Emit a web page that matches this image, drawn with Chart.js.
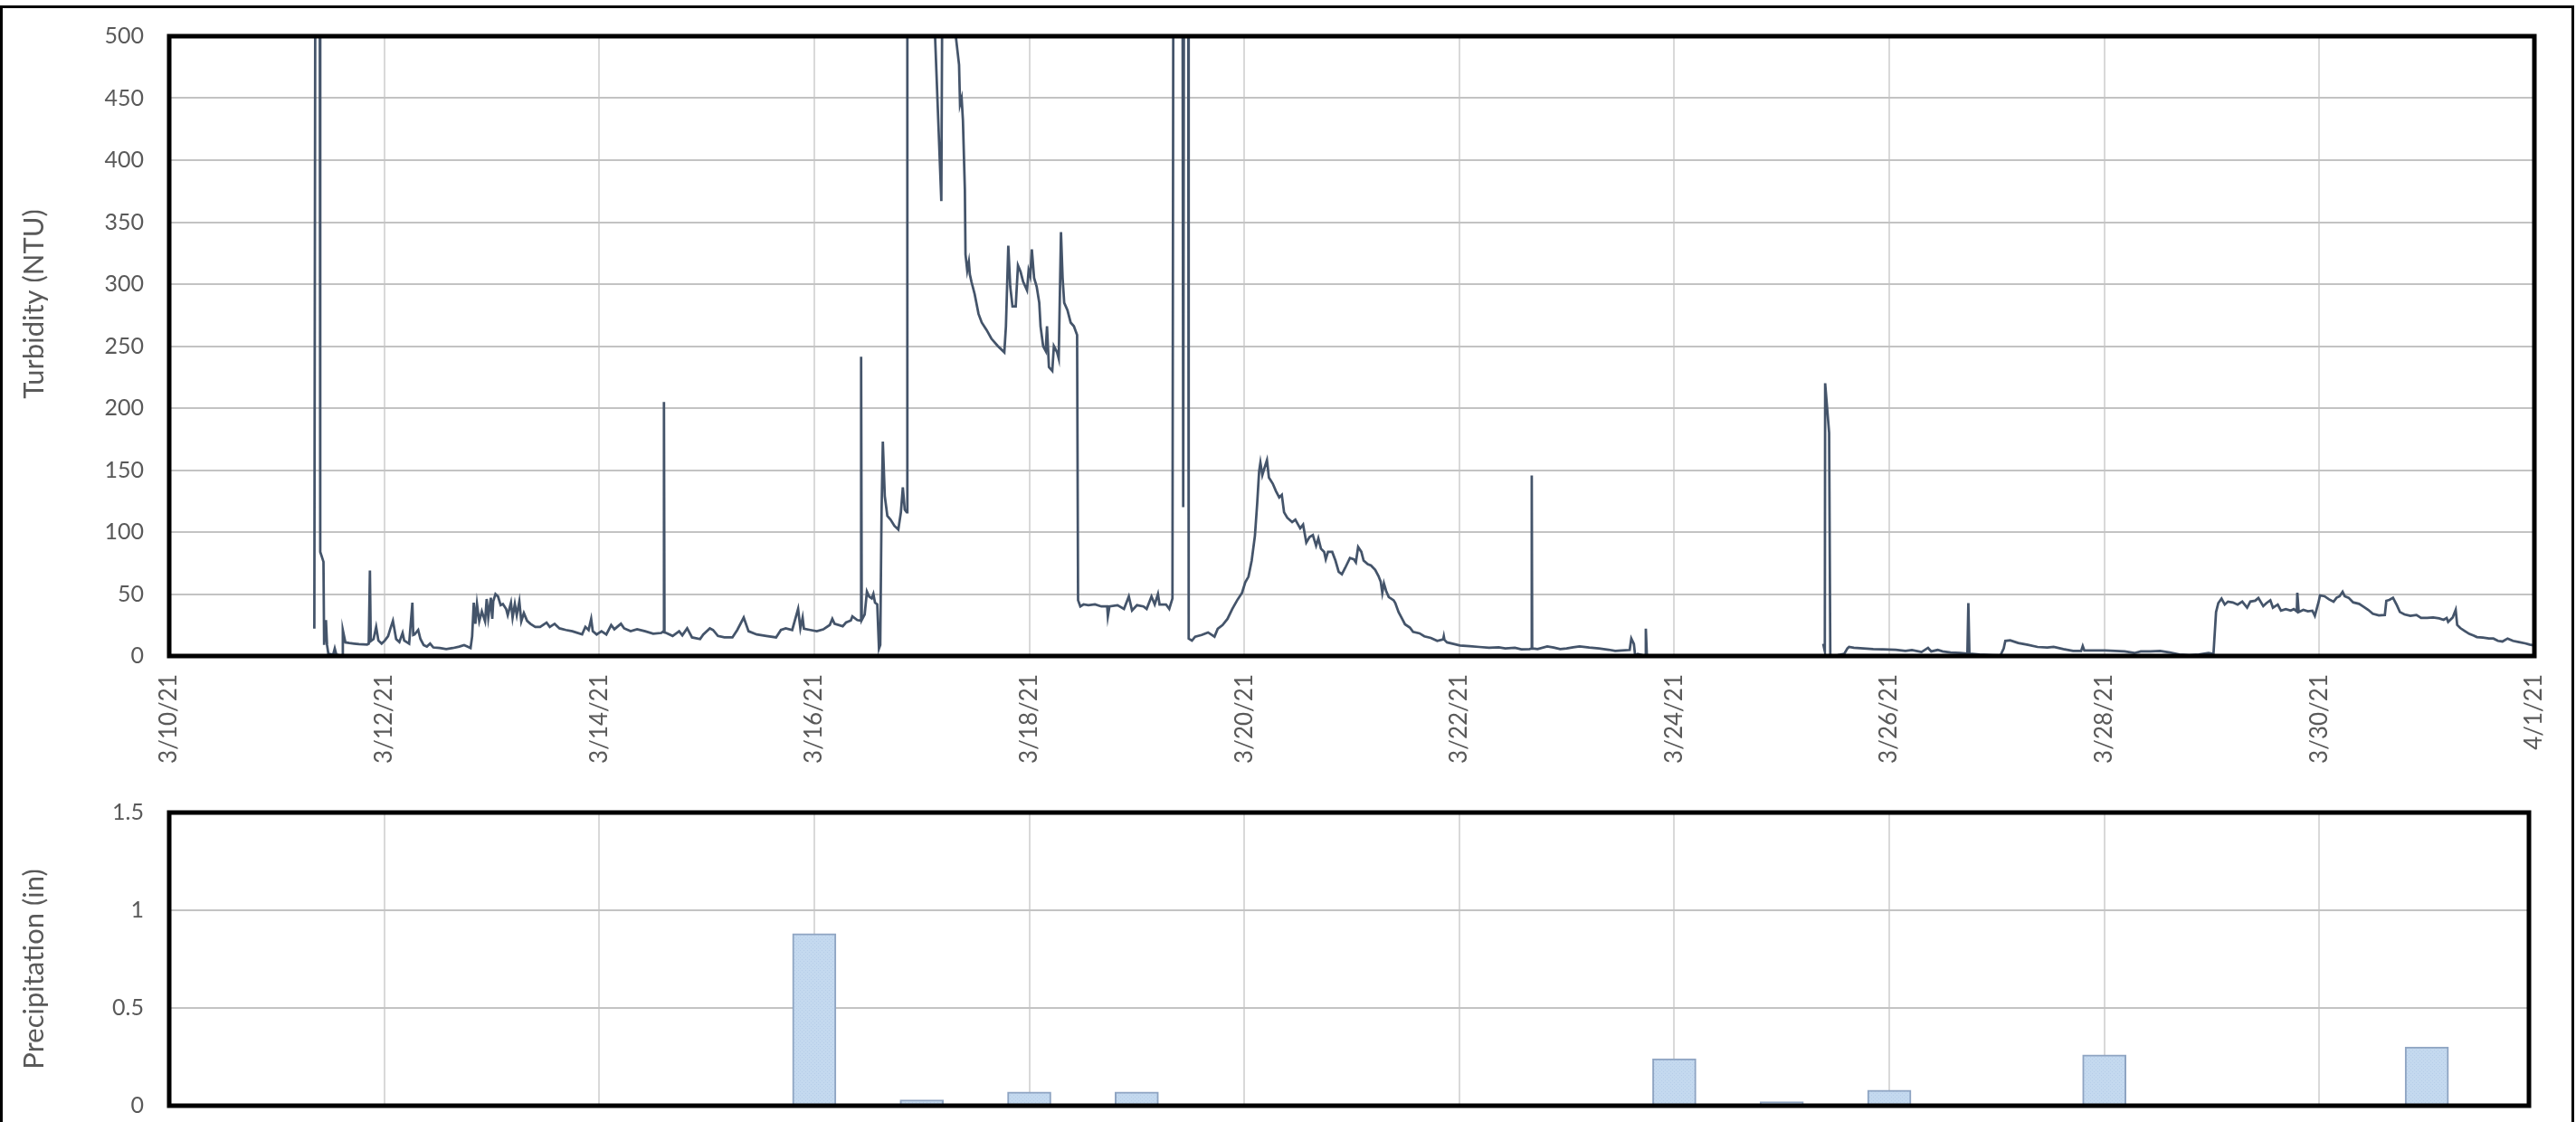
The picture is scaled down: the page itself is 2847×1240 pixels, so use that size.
<!DOCTYPE html>
<html>
<head>
<meta charset="utf-8">
<title>Turbidity and precipitation, March 2021</title>
<script src="https://cdn.jsdelivr.net/npm/chart.js@4.4.1/dist/chart.umd.min.js"></script>
<style>
  html, body { margin: 0; padding: 0; background: #fff; }
  #page { position: relative; width: 2847px; height: 1240px; overflow: hidden; background: #fff; }
  #frame { position: absolute; left: 0; top: 6px; width: 2845px; height: 1300px; border: 3px solid #000; box-sizing: border-box; }
  #turbCanvas { position: absolute; left: 0; top: 0; }
  #rainCanvas { position: absolute; left: 0; top: 870px; }
</style>
</head>
<body>
<div id="page">
  <div id="frame"></div>
  <canvas id="turbCanvas" width="2847" height="900"></canvas>
  <canvas id="rainCanvas" width="2847" height="370"></canvas>
</div>
<script>
// Time axis: days elapsed since 3/10/21 00:00.
const dateLabels = ['3/10/21', '3/12/21', '3/14/21', '3/16/21', '3/18/21', '3/20/21',
                    '3/22/21', '3/24/21', '3/26/21', '3/28/21', '3/30/21', '4/1/21'];
const rainTickLabels = ['0', '0.5', '1', '1.5'];

// Turbidity readings [day, NTU]. Readings above the 500 NTU axis ceiling are
// logged as 620 (sensor saturated); null marks the outage on 3/24-3/25.
const turbidity = [
  [1.350,22],[1.360,620],[1.400,620],[1.405,84],[1.420,80],[1.435,76],[1.441,9],[1.458,29],[1.468,9],[1.480,2],
  [1.495,1.5],[1.525,1],[1.540,6],[1.555,1],[1.585,0.5],[1.609,0.5],[1.615,21],[1.639,11],[1.675,10.5],[1.720,10],
  [1.765,9.5],[1.841,9.3],[1.856,10],[1.867,69],[1.875,12],[1.901,13.7],[1.925,23.5],[1.946,12.5],[1.976,10],[2.006,12.5],
  [2.036,16],[2.057,22],[2.081,28.4],[2.111,13.7],[2.141,11.3],[2.171,18.6],[2.186,12.5],[2.232,10],[2.262,43],[2.270,17],
  [2.283,17.4],[2.316,21],[2.337,13.7],[2.367,8.8],[2.397,7.6],[2.427,10],[2.457,6.9],[2.517,6.4],[2.577,5.6],[2.638,6.4],
  [2.698,7.6],[2.743,8.8],[2.773,7.6],[2.803,6.4],[2.818,16],[2.833,43],[2.848,26],[2.863,42],[2.884,28],[2.908,36],
  [2.938,28],[2.953,46],[2.968,31],[2.992,47],[3.005,30],[3.014,44],[3.035,50],[3.059,48],[3.083,41],[3.104,42],
  [3.134,38],[3.149,33],[3.179,43],[3.194,31],[3.215,42],[3.233,33],[3.257,44],[3.275,28],[3.299,34.6],[3.329,28.4],
  [3.359,26],[3.405,23.5],[3.450,23.5],[3.510,27],[3.540,23.5],[3.585,26],[3.630,22.3],[3.690,21],[3.750,20],[3.841,17.4],
  [3.871,23.5],[3.901,21],[3.925,30],[3.940,20],[3.976,17.4],[4.021,20],[4.066,17.4],[4.111,25],[4.141,21.6],[4.202,26],
  [4.232,22.3],[4.292,20],[4.352,21.6],[4.427,20],[4.502,18],[4.577,18.6],[4.598,20],[4.602,205],[4.607,19],[4.623,18.6],
  [4.683,16.2],[4.743,20],[4.773,16.7],[4.818,22.3],[4.863,15],[4.938,13.7],[4.968,17.4],[5.029,22.3],[5.059,21],[5.104,16.2],
  [5.164,15],[5.239,15],[5.284,21],[5.344,31],[5.389,20],[5.465,17.4],[5.555,16.2],[5.645,15],[5.690,21],[5.735,22.3],
  [5.795,21],[5.850,38],[5.871,22.3],[5.892,31],
  [5.904,22],[5.964,21],[6.024,20],[6.084,21.5],[6.144,25],[6.168,30],[6.189,26],[6.265,24],[6.295,27],[6.340,28.6],
  [6.355,32],[6.400,29],[6.430,28.6],[6.436,241.5],[6.442,29],[6.469,33.5],[6.490,52],[6.511,48],[6.535,46.5],[6.550,50],
  [6.565,43],[6.586,41.6],[6.602,6],[6.614,9],[6.626,116],[6.638,173],[6.656,129],[6.680,113],[6.710,110],[6.746,105],
  [6.782,102],[6.806,116],[6.824,136],[6.842,118],[6.860,116],[6.866,620],[7.080,600],[7.182,367],[7.195,620],[7.310,505],
  [7.347,477],[7.356,445],[7.371,450],[7.383,432],[7.401,376],[7.407,324],[7.423,311],[7.438,318],[7.447,308],[7.462,302],
  [7.492,292],[7.528,276],[7.558,269],[7.603,263],[7.648,256],[7.708,250],[7.768,245],[7.783,266],[7.805,331],[7.823,298],
  [7.844,282],[7.874,282],[7.895,315],[7.919,310],[7.943,302],[7.979,295],[7.994,311],[8.009,306.5],[8.024,328],[8.045,305],
  [8.069,298],[8.093,285],[8.105,266],[8.129,250],[8.153,246],[8.165,266],[8.183,233],[8.214,230],[8.229,250],[8.259,245],
  [8.274,240],[8.295,342],[8.310,305],[8.325,285],[8.355,279],[8.385,269],[8.415,266],[8.445,259],[8.454,45],[8.475,40],
  [8.505,41.6],[8.550,41],[8.611,41.6],[8.671,40],[8.725,40],[8.731,32],[8.746,40],[8.821,41],[8.881,38],[8.926,48],
  [8.956,36.7],[9.002,41],[9.062,40],[9.092,38],[9.137,48],[9.167,41.6],[9.197,50],[9.212,41.6],[9.272,41.6],[9.302,38],
  [9.332,46.5],[9.341,620],[9.425,620],[9.432,120],[9.440,620],[9.478,620],[9.483,14],[9.513,12.4],[9.543,15.6],[9.603,17],
  [9.663,19],[9.723,15.6],[9.753,22],[9.798,25],[9.844,30],[9.889,38],[9.934,45],[9.979,51],[10.009,59.5],[10.039,64],
  [10.069,77],[10.099,97],[10.120,123],[10.138,149],[10.150,156],[10.168,146],[10.189,152],[10.211,158],[10.229,144],[10.265,139],
  [10.295,133],[10.325,128],[10.349,130],[10.370,116],[10.400,111.5],[10.445,108],[10.475,110],[10.520,103],
  [10.547,106],[10.577,91.5],[10.607,96],[10.638,97.6],[10.668,89],[10.689,95],[10.713,86.6],[10.743,84],[10.758,78],[10.779,84],
  [10.818,84],[10.848,77],[10.878,68],[10.908,66],[10.938,71],[10.983,79],[11.020,78],[11.038,75.6],[11.059,88],[11.089,84],
  [11.110,77],[11.149,74],[11.179,73],[11.218,69.5],[11.248,64.6],[11.269,60],[11.284,51],[11.299,58.5],[11.320,52.4],[11.344,47.6],
  [11.389,45],[11.405,42.7],[11.435,35.4],[11.465,30.5],[11.495,25.6],[11.540,23],[11.570,19.5],[11.630,18.3],[11.675,15.9],[11.735,14.6],
  [11.795,12.2],[11.850,13.4],[11.856,15.9],[11.862,13],[11.886,11],[11.946,9.8],[12.006,8.5],[12.096,8],[12.186,7.3],[12.277,6.6],
  [12.367,7],[12.427,6.1],[12.517,6.6],[12.577,5.4],[12.653,5.6],[12.670,6],[12.674,145.6],[12.678,6],[12.683,6.1],[12.728,5.6],
  [12.818,7.8],[12.878,6.8],[12.938,5.6],[12.998,6.1],[13.059,7],[13.119,7.8],[13.209,6.8],[13.299,6.1],[13.389,5.1],[13.450,4.1],
  [13.510,4.4],[13.585,4.9],[13.600,14.1],[13.624,9.8],[13.636,0],[13.660,1.7],[13.705,0.7],[13.730,0.5],[13.735,22],[13.745,0],
  [13.800,null],
  [15.385,9.8],[15.400,3.7],[15.403,220],[15.440,180],[15.451,0],[15.460,0],[15.520,0.7],[15.580,1.7],[15.610,6.1],[15.625,7.3],
  [15.670,6.6],[15.760,6.1],[15.850,5.6],[15.940,5.4],[16.060,5.1],[16.150,4.1],[16.210,4.9],[16.300,3.2],[16.360,6.6],[16.390,3.7],
  [16.450,4.9],[16.495,3.7],[16.570,2.9],[16.660,2.4],[16.726,2],[16.735,42.7],[16.745,2],[16.840,1.2],[16.960,0.7],[17.034,0.5],
  [17.064,6.1],[17.079,12.2],[17.124,12.7],[17.199,10.5],[17.289,9],[17.379,7.3],[17.469,6.8],[17.529,7.3],[17.619,5.6],[17.709,4.1],
  [17.784,4.1],[17.799,8],[17.814,4.4],[17.889,4.4],[18.009,4.4],[18.099,4.1],[18.189,3.7],[18.279,2.4],[18.339,3.7],[18.429,3.7],
  [18.519,4.1],[18.609,2.9],[18.699,1.2],[18.789,0.7],[18.879,1.2],[18.969,2.4],[19.015,1.7],[19.039,35.4],[19.060,42.7],[19.090,46.3],
  [19.120,41.5],[19.150,43.9],[19.195,43.2],[19.240,41.5],[19.283,43.9],[19.328,39],[19.358,43.9],[19.403,44.6],[19.433,46.8],[19.478,40.2],
  [19.508,42.7],[19.544,45],[19.568,39],[19.613,41.5],[19.643,36.6],[19.688,37.8],[19.733,36.6],[19.763,37.8],[19.790,36],[19.795,51],
  [19.808,35.4],[19.851,37.2],[19.893,36],[19.935,36.5],[19.958,32.4],[19.992,43.3],[20.006,48.9],[20.048,48.2],[20.090,45.7],[20.132,43.8],
  [20.160,47],[20.188,48.2],[20.216,51.8],[20.236,48.2],[20.272,47],[20.314,43.3],[20.370,42.1],[20.412,39.7],[20.455,37.2],[20.497,34.1],
  [20.553,32.8],[20.609,33.1],[20.623,44.5],[20.651,45.3],[20.685,47],[20.721,40.9],[20.749,35.5],[20.791,33.6],[20.847,32.4],[20.903,33.1],
  [20.946,30.7],[21.002,30.7],[21.058,31.1],[21.114,30.4],[21.156,29.2],[21.184,30.7],[21.198,27.5],[21.240,31.1],[21.268,37.2],[21.282,25.1],
  [21.310,22.6],[21.352,20.2],[21.395,17.8],[21.437,16.5],[21.465,15.3],[21.521,14.8],[21.577,14.1],[21.619,14.1],[21.661,12.2],[21.703,11.7],
  [21.751,14.1],[21.801,12.2],[21.857,11.2],[21.914,10.2],[21.956,9.2],[22.003,8.5]
];

// Daily precipitation totals (inches), keyed by day since 3/10/21.
const rainDays   = [6, 7, 8, 9, 14, 15, 16, 18, 21];
const rainInches = [0.88, 0.03, 0.07, 0.07, 0.24, 0.02, 0.08, 0.26, 0.30];

const FONT = 'Lato';
const GREY_TEXT = '#595959';

// Heavy black frame around each plot area.
const plotFrame = {
  id: 'plotFrame',
  afterDraw(chart) {
    const { ctx, chartArea: a } = chart;
    ctx.save();
    ctx.strokeStyle = '#000';
    ctx.lineWidth = 5;
    ctx.strokeRect(a.left, a.top, a.right - a.left, a.bottom - a.top);
    ctx.restore();
  }
};

// Rotated value-axis title, placed at a fixed point beside the axis.
const sideTitle = {
  id: 'sideTitle',
  afterDraw(chart, args, opts) {
    const ctx = chart.ctx;
    ctx.save();
    ctx.translate(opts.x, opts.y);
    ctx.rotate(-Math.PI / 2);
    ctx.font = `${opts.size}px ${FONT}`;
    ctx.fillStyle = GREY_TEXT;
    ctx.textAlign = 'center';
    ctx.textBaseline = 'middle';
    ctx.fillText(opts.text, 0, 0);
    ctx.restore();
  }
};

// Fine stipple fill used for the rain columns.
function stipple() {
  const c = document.createElement('canvas');
  c.width = 4; c.height = 4;
  const g = c.getContext('2d');
  g.fillStyle = '#C4D9EF';
  g.fillRect(0, 0, 4, 4);
  g.fillStyle = '#B6CDE8';
  g.fillRect(0, 0, 1, 1);
  g.fillRect(2, 2, 1, 1);
  return g.createPattern(c, 'repeat');
}

function yAxis(opts) {
  return Object.assign({
    position: 'left',
    border: { display: false },
    grid: { color: '#C3C3C3', lineWidth: 2, drawTicks: false },
    afterFit(s) { s.width = 187; s.paddingTop = 0; s.paddingBottom = 0; }
  }, opts);
}

Chart.defaults.animation = false;

new Chart(document.getElementById('turbCanvas'), {
  type: 'line',
  data: {
    datasets: [{
      data: turbidity.map(([d, v]) => ({ x: d, y: v })),
      borderColor: '#44546A',
      borderWidth: 2.75,
      pointRadius: 0,
      tension: 0,
      spanGaps: false
    }]
  },
  options: {
    responsive: false,
    layout: { padding: { left: 0, top: 40, right: 46, bottom: 0 } },
    plugins: {
      legend: { display: false }, tooltip: { enabled: false },
      sideTitle: { text: 'Turbidity (NTU)', x: 38, y: 336, size: 31 }
    },
    scales: {
      x: {
        type: 'linear', min: 0, max: 22,
        border: { display: false },
        grid: { color: '#D9D9D9', lineWidth: 2, drawTicks: false },
        ticks: {
          stepSize: 2, autoSkip: false, maxRotation: 90, minRotation: 90, padding: 20,
          color: GREY_TEXT, font: { family: FONT, size: 26 },
          callback: (v) => dateLabels[Math.round(v / 2)]
        },
        afterFit(s) { s.paddingLeft = 0; s.paddingRight = 0; s.height = 175; }
      },
      y: yAxis({
        min: 0, max: 500,
        ticks: { stepSize: 50, color: GREY_TEXT, padding: 28, font: { family: FONT, size: 25 } }
      })
    }
  },
  plugins: [plotFrame, sideTitle]
});

new Chart(document.getElementById('rainCanvas'), {
  type: 'bar',
  data: {
    datasets: [{
      data: rainDays.map((d, i) => ({ x: d, y: rainInches[i] })),
      backgroundColor: stipple(),
      borderColor: '#8EA4C2',
      borderWidth: 2,
      barThickness: 48
    }]
  },
  options: {
    responsive: false,
    layout: { padding: { left: 0, top: 28, right: 52, bottom: 18 } },
    plugins: {
      legend: { display: false }, tooltip: { enabled: false },
      sideTitle: { text: 'Precipitation (in)', x: 38, y: 201, size: 31 }
    },
    scales: {
      x: {
        type: 'linear', min: 0, max: 21.95, offset: false,
        border: { display: false },
        grid: { color: '#D9D9D9', lineWidth: 2, drawTicks: false, offset: false },
        ticks: { stepSize: 2, display: false },
        afterFit(s) { s.paddingLeft = 0; s.paddingRight = 0; s.height = 0; }
      },
      y: yAxis({
        min: 0, max: 1.5,
        ticks: {
          stepSize: 0.5, color: GREY_TEXT, padding: 28, font: { family: FONT, size: 25 },
          callback: (v) => rainTickLabels[Math.round(v / 0.5)]
        }
      })
    }
  },
  plugins: [plotFrame, sideTitle]
});
</script>
</body>
</html>
